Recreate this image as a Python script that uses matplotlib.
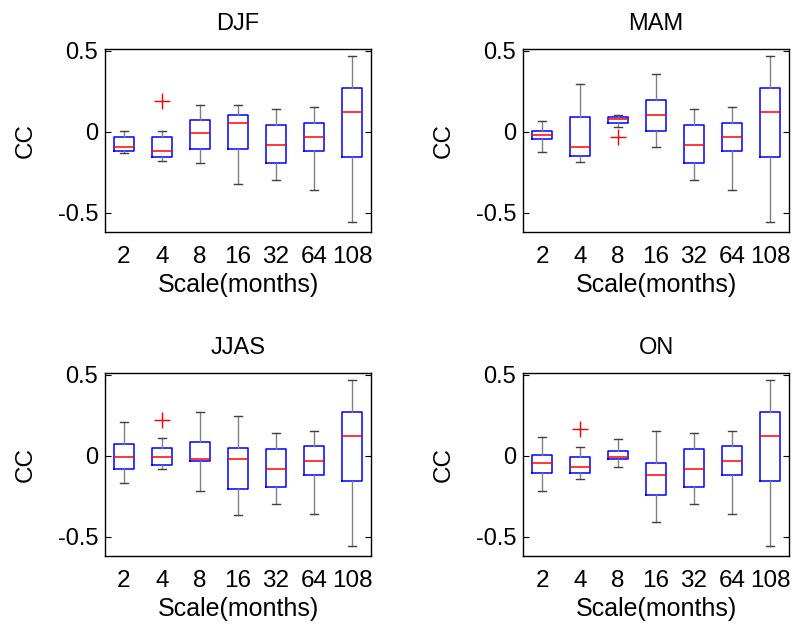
import matplotlib
matplotlib.use('Agg')
import matplotlib.pyplot as plt

plt.rcParams['font.family'] = ['Liberation Sans', 'DejaVu Sans']

scales = ['2', '4', '8', '16', '32', '64', '108']

# (whisker low, q1, median, q3, whisker high) for each scale
djf = [(-0.131, -0.119, -0.094, -0.033, 0.006),
       (-0.181, -0.156, -0.119, -0.033, 0.006),
       (-0.196, -0.106, -0.008, 0.069, 0.167),
       (-0.321, -0.106, 0.056, 0.104, 0.167),
       (-0.296, -0.196, -0.081, 0.042, 0.142),
       (-0.358, -0.119, -0.031, 0.056, 0.154),
       (-0.558, -0.156, 0.121, 0.269, 0.469)]
djf_out = [[], [0.19], [], [], [], [], []]

mam = [(-0.123, -0.046, -0.023, 0.004, 0.067),
       (-0.185, -0.148, -0.098, 0.092, 0.294),
       (0.027, 0.054, 0.077, 0.092, 0.102),
       (-0.098, 0.004, 0.102, 0.192, 0.356),
       (-0.296, -0.196, -0.081, 0.042, 0.142),
       (-0.358, -0.119, -0.031, 0.056, 0.154),
       (-0.558, -0.156, 0.121, 0.269, 0.469)]
mam_out = [[], [], [-0.033], [], [], [], []]

jjas = [(-0.169, -0.081, -0.006, 0.069, 0.206),
        (-0.081, -0.056, -0.006, 0.044, 0.106),
        (-0.219, -0.031, -0.019, 0.081, 0.269),
        (-0.369, -0.206, -0.019, 0.044, 0.244),
        (-0.296, -0.196, -0.081, 0.042, 0.142),
        (-0.358, -0.119, -0.031, 0.056, 0.154),
        (-0.558, -0.156, 0.121, 0.269, 0.469)]
jjas_out = [[], [0.219], [], [], [], [], []]

on = [(-0.221, -0.108, -0.046, 0.004, 0.117),
      (-0.146, -0.108, -0.071, -0.008, 0.054),
      (-0.071, -0.021, -0.008, 0.029, 0.104),
      (-0.408, -0.246, -0.121, -0.046, 0.154),
      (-0.296, -0.196, -0.081, 0.042, 0.142),
      (-0.358, -0.119, -0.031, 0.056, 0.154),
      (-0.558, -0.156, 0.121, 0.269, 0.469)]
on_out = [[], [0.167], [], [], [], [], []]

panels = [('DJF', djf, djf_out), ('MAM', mam, mam_out),
          ('JJAS', jjas, jjas_out), ('ON', on, on_out)]

fig = plt.figure(figsize=(7.94, 6.24), dpi=100)
lefts = [0.1322, 0.6587, 0.1322, 0.6587]
bottoms = [0.6282, 0.6282, 0.109, 0.109]
w = 0.3351
h = 0.2933

for i, (name, vals, outs) in enumerate(panels):
    ax = fig.add_axes([lefts[i], bottoms[i], w, h])
    stats = []
    for v, o in zip(vals, outs):
        stats.append(dict(whislo=v[0], q1=v[1], med=v[2], q3=v[3], whishi=v[4], fliers=o))
    ax.bxp(stats, positions=range(1, 8), widths=0.53,
           boxprops=dict(color='blue', lw=1.1),
           medianprops=dict(color='red', lw=1.1),
           whiskerprops=dict(color='#808080', lw=1),
           capprops=dict(color='#404040', lw=1),
           flierprops=dict(marker='+', markeredgecolor='red', markersize=11, mew=1),
           capwidths=0.22)
    ax.set_xlim(0.5, 7.5)
    ax.set_ylim(-0.62, 0.51)
    ax.set_yticks([-0.5, 0, 0.5])
    ax.set_yticklabels(['-0.5', '0', '0.5'])
    ax.set_xticks(range(1, 8))
    ax.set_xticklabels(scales)
    ax.tick_params(axis='x', length=0, pad=10, labelsize=17.5)
    ax.tick_params(axis='y', direction='in', length=4, right=True, pad=5, labelsize=17)
    for s in ax.spines.values():
        s.set_linewidth(1)
    ax.set_title(name, fontsize=17, pad=14)
    ax.set_ylabel('CC', fontsize=17.5, labelpad=15)
    ax.set_xlabel('Scale(months)', fontsize=18, labelpad=4)

plt.savefig('out.png', dpi=100)
